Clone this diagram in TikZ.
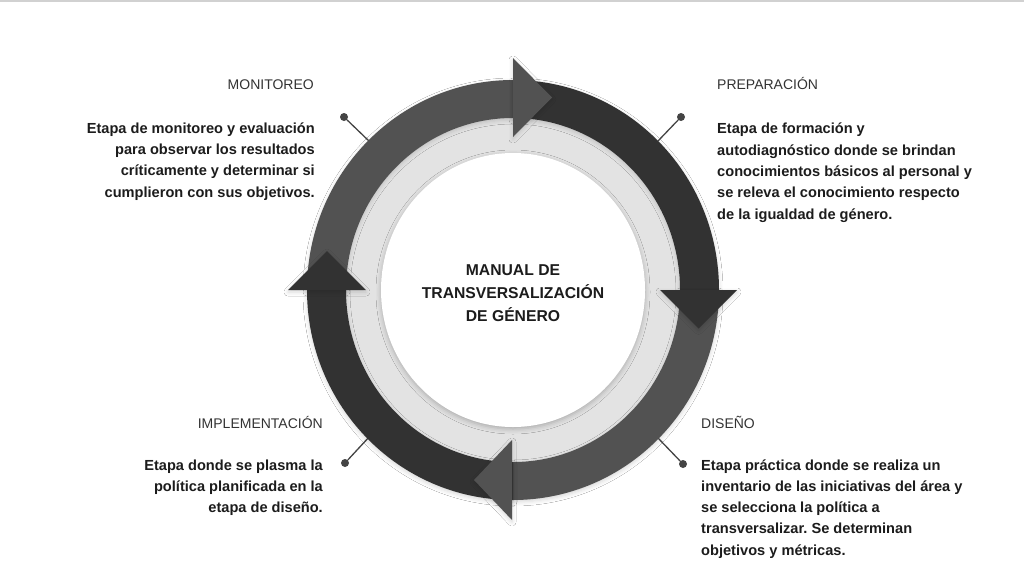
\documentclass[tikz,border=0pt]{standalone}
\usepackage{fontspec}
\setmainfont{Liberation Sans}
\frenchspacing
\usetikzlibrary{shadows.blur}
\definecolor{darkseg}{HTML}{323232}
\definecolor{midseg}{HTML}{525252}
\definecolor{lightring}{HTML}{E3E3E3}
\definecolor{txt}{HTML}{1C1C1C}
\definecolor{head}{HTML}{333333}
\definecolor{pin}{HTML}{444444}
\begin{document}
\begin{tikzpicture}[x=1pt,y=-1pt,
  seg/.style={blur shadow={shadow xshift=0pt,shadow yshift=-2pt,shadow blur radius=4pt,shadow opacity=16}},
  headtxt/.style={font=\fontsize{14}{21.3}\selectfont, text=head, inner sep=0pt},
  bodytxt/.style={font=\fontsize{14.6}{21.3}\selectfont\bfseries, text=txt, inner sep=0pt},
  pindot/.style={circle, fill=pin, inner sep=0pt, minimum size=8pt},
  pinline/.style={draw=pin, line width=1.3pt}]
\useasboundingbox (0,0) rectangle (1024,576);
\fill[white] (0,0) rectangle (1024,576);
\fill[black!18] (0,0) rectangle (1024,2);

% pins
\node[pindot] (d1) at (344,117) {};
\coordinate (e1) at (370,142);
\node[pindot] (d2) at (681,117) {};
\coordinate (e2) at (658,141);
\node[pindot] (d3) at (345,463) {};
\coordinate (e3) at (370,436);
\node[pindot] (d4) at (683,464) {};
\coordinate (e4) at (658,438);
\draw[pinline] (d1) -- (e1);
\draw[pinline] (d2) -- (e2);
\draw[pinline] (d3) -- (e3);
\draw[pinline] (d4) -- (e4);

% light ring and white disk
\fill[lightring] (513,290) ellipse[x radius=167pt, y radius=172pt];
\fill[white, blur shadow={shadow xshift=0pt,shadow yshift=-2pt,shadow blur radius=5pt,shadow opacity=25}] (513,290) ellipse[x radius=132pt, y radius=137pt];

% ring segments
\fill[midseg, seg] (307,290) arc[start angle=180,end angle=90,x radius=206pt,y radius=210pt]
   -- (513,118) arc[start angle=90,end angle=180,x radius=167pt,y radius=172pt] -- cycle;
\fill[darkseg, seg] (513,80) arc[start angle=90,end angle=0,x radius=206pt,y radius=210pt]
   -- (680,290) arc[start angle=0,end angle=90,x radius=167pt,y radius=172pt] -- cycle;
\fill[midseg, seg] (719,290) arc[start angle=0,end angle=-90,x radius=206pt,y radius=210pt]
   -- (513,462) arc[start angle=-90,end angle=0,x radius=167pt,y radius=172pt] -- cycle;
\fill[darkseg, seg] (513,500) arc[start angle=-90,end angle=-180,x radius=206pt,y radius=210pt]
   -- (346,290) arc[start angle=-180,end angle=-90,x radius=167pt,y radius=172pt] -- cycle;

% arrowheads
\fill[midseg, seg] (513,58) -- (552,97.5) -- (513,137) -- cycle;
\fill[darkseg, seg] (660,290) -- (698.5,328.5) -- (737,290) -- cycle;
\fill[midseg, seg] (512,440) -- (474,480) -- (512,520) -- cycle;
\fill[darkseg, seg] (288,290) -- (327,251) -- (366,290) -- cycle;

% centre title (anchor = baseline of last line)
\node[font=\fontsize{15.7}{23.3}\selectfont\bfseries, text=txt, align=center, inner sep=0pt, anchor=base]
  (title) at (513,321.6) {MANUAL DE\\TRANSVERSALIZACIÓN\\DE GÉNERO};

% headings
\node[headtxt, anchor=base east] (h1) at (314,89) {MONITOREO};
\node[headtxt, anchor=base west] (h2) at (717,89) {PREPARACIÓN};
\node[headtxt, anchor=base east] (h3) at (323,428) {IMPLEMENTACIÓN};
\node[headtxt, anchor=base west] (h4) at (701,428) {DISEÑO};

% bodies (anchor = baseline of last line)
\node[bodytxt, align=right, anchor=base east] (b1) at (315,197)
  {Etapa de monitoreo y evaluación\\para observar los resultados\\críticamente y determinar si\\cumplieron con sus objetivos.};
\node[bodytxt, align=left, anchor=base west] (b2) at (717,219)
  {Etapa de formación y\\autodiagnóstico donde se brindan\\conocimientos básicos al personal y\\se releva el conocimiento respecto\\de la igualdad de género.};
\node[bodytxt, align=right, anchor=base east] (b3) at (323,512.6)
  {Etapa donde se plasma la\\política planificada en la\\etapa de diseño.};
\node[bodytxt, align=left, anchor=base west] (b4) at (701,555.2)
  {Etapa práctica donde se realiza un\\inventario de las iniciativas del área y\\se selecciona la política a\\transversalizar. Se determinan\\objetivos y métricas.};
\end{tikzpicture}
\end{document}
